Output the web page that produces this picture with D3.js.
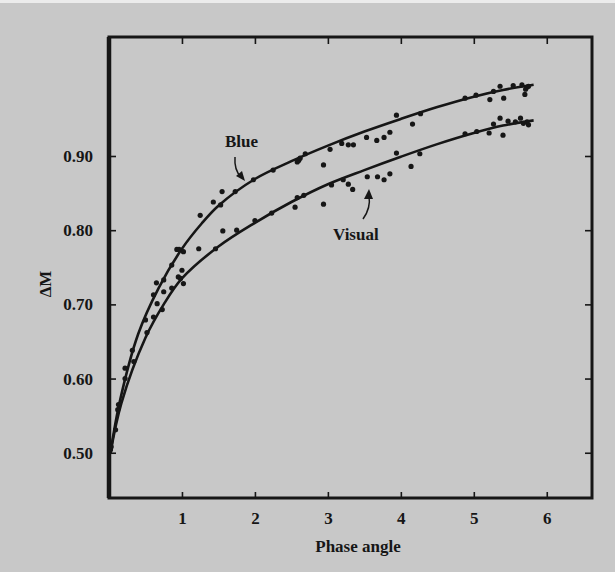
<!DOCTYPE html>
<html><head><meta charset="utf-8">
<script src="https://cdn.jsdelivr.net/npm/d3@7/dist/d3.min.js"></script>
<style>html,body{margin:0;padding:0;background:#c8c8c8;}svg{display:block;}</style>
</head><body>
<script>
const xTicks = [1, 2, 3, 4, 5, 6];
const yTicks = [0.50, 0.60, 0.70, 0.80, 0.90];
const xTitle = "Phase angle";
const yTitle = "ΔM";

const blueCurve = [[0.02,0.500],[0.15,0.570],[0.40,0.660],[0.68,0.722],[1.00,0.775],[1.27,0.809],[1.50,0.833],[2.00,0.869],[2.50,0.893],[3.00,0.914],[3.50,0.933],[4.00,0.950],[4.50,0.966],[5.00,0.980],[5.40,0.989],[5.82,0.996]];
const visualCurve = [[0.02,0.500],[0.17,0.567],[0.50,0.655],[0.75,0.700],[1.00,0.735],[1.50,0.778],[2.00,0.810],[2.50,0.838],[3.00,0.862],[3.50,0.881],[4.00,0.899],[4.50,0.916],[5.00,0.931],[5.40,0.941],[5.82,0.948]];

const blueDots = [[0.02,0.504],[0.09,0.531],[0.13,0.565],[0.22,0.614],[0.32,0.638],[0.50,0.679],[0.61,0.713],[0.65,0.729],[0.75,0.733],[0.86,0.753],[0.93,0.774],[0.96,0.774],[1.02,0.771],[1.25,0.820],[1.43,0.838],[1.53,0.834],[1.55,0.852],[1.73,0.852],[1.98,0.868],[2.25,0.881],[2.58,0.892],[2.60,0.894],[2.62,0.897],[2.69,0.903],[2.94,0.888],[3.03,0.909],[3.19,0.917],[3.28,0.915],[3.35,0.915],[3.53,0.925],[3.67,0.921],[3.77,0.925],[3.85,0.932],[3.94,0.955],[4.16,0.943],[4.27,0.957],[4.88,0.978],[5.03,0.982],[5.22,0.976],[5.27,0.987],[5.36,0.994],[5.41,0.978],[5.54,0.995],[5.66,0.996],[5.70,0.983],[5.73,0.993],[5.75,0.994],[5.71,0.990]];
const visualDots = [[0.03,0.508],[0.12,0.558],[0.22,0.600],[0.34,0.623],[0.52,0.662],[0.61,0.683],[0.66,0.701],[0.73,0.693],[0.75,0.717],[0.86,0.722],[0.95,0.737],[0.98,0.735],[1.00,0.746],[1.02,0.728],[1.23,0.775],[1.46,0.775],[1.56,0.799],[1.75,0.800],[2.00,0.813],[2.23,0.823],[2.55,0.831],[2.58,0.844],[2.67,0.847],[2.94,0.835],[3.05,0.861],[3.21,0.868],[3.28,0.862],[3.34,0.855],[3.54,0.872],[3.68,0.872],[3.77,0.868],[3.85,0.876],[3.94,0.904],[4.14,0.886],[4.26,0.903],[4.88,0.930],[5.04,0.933],[5.21,0.931],[5.27,0.943],[5.36,0.951],[5.40,0.928],[5.47,0.947],[5.57,0.946],[5.64,0.951],[5.68,0.944],[5.73,0.946],[5.75,0.942]];

const W = 615, H = 572;
const ink = "#161616";
const font = "'Liberation Serif', 'DejaVu Serif', serif";
const svg = d3.select("body").append("svg").attr("width", W).attr("height", H);
svg.append("rect").attr("width", W).attr("height", H).attr("fill", "#c8c8c8");
svg.append("rect").attr("width", W).attr("height", 3).attr("fill", "#ececec");

const L = 109, R = 592, T = 37, B = 498;
const x = d3.scaleLinear().domain([0, 6.62]).range([L, R]);
const y = d3.scaleLinear().domain([0.439, 1.0604]).range([B, T]);

// frame
svg.append("rect").attr("x", L).attr("y", T).attr("width", R - L).attr("height", B - T)
  .attr("fill", "none").attr("stroke", ink).attr("stroke-width", 3);
svg.append("line").attr("x1", L).attr("x2", L).attr("y1", T).attr("y2", B).attr("stroke", ink).attr("stroke-width", 4.5);

// axes
const gBottom = svg.append("g").attr("transform", `translate(0,${B})`)
  .call(d3.axisBottom(x).tickValues(xTicks).tickSizeInner(-6).tickSizeOuter(0).tickPadding(14).tickFormat(d3.format("d")));
const gTop = svg.append("g").attr("transform", `translate(0,${T})`)
  .call(d3.axisTop(x).tickValues(xTicks).tickSizeInner(-7).tickSizeOuter(0).tickFormat(""));
const gLeft = svg.append("g").attr("transform", `translate(${L},0)`)
  .call(d3.axisLeft(y).tickValues(yTicks).tickSizeInner(-7).tickSizeOuter(0).tickPadding(16).tickFormat(d3.format(".2f")));
const gRight = svg.append("g").attr("transform", `translate(${R},0)`)
  .call(d3.axisRight(y).tickValues(yTicks).tickSizeInner(-7).tickSizeOuter(0).tickFormat(""));
[gBottom, gTop, gLeft, gRight].forEach(g => {
  g.select(".domain").remove();
  g.selectAll("line").attr("stroke", ink).attr("stroke-width", 1.6);
  g.selectAll("text").attr("fill", ink).attr("font-family", font).attr("font-size", 17).attr("font-weight", "bold");
});

// curves
const line = d3.line().x(d => x(d[0])).y(d => y(d[1])).curve(d3.curveCatmullRom.alpha(0.5));
[blueCurve, visualCurve].forEach(c => {
  svg.append("path").attr("d", line(c)).attr("fill", "none").attr("stroke", ink).attr("stroke-width", 2.6);
});
[blueDots, visualDots].forEach(ds => {
  svg.append("g").selectAll("circle").data(ds).join("circle")
    .attr("cx", d => x(d[0])).attr("cy", d => y(d[1])).attr("r", 2.6).attr("fill", ink);
});

// labels
svg.append("text").attr("x", 358).attr("y", 552).attr("text-anchor", "middle")
  .attr("font-family", font).attr("font-size", 17).attr("font-weight", "bold").attr("fill", ink).text(xTitle);
svg.append("text").attr("transform", "translate(51,284) rotate(-90)").attr("text-anchor", "middle")
  .attr("font-family", font).attr("font-size", 17).attr("font-weight", "bold").attr("fill", ink).text(yTitle);
svg.append("text").attr("x", 225).attr("y", 147)
  .attr("font-family", font).attr("font-size", 17).attr("font-weight", "bold").attr("fill", ink).text("Blue");
svg.append("text").attr("x", 333).attr("y", 240)
  .attr("font-family", font).attr("font-size", 17).attr("font-weight", "bold").attr("fill", ink).text("Visual");

// arrows
svg.append("path").attr("d", "M235,157 Q234,170 241,177").attr("fill", "none").attr("stroke", ink).attr("stroke-width", 1.5);
svg.append("path").attr("d", "M245,181 L236,176 L242,171 Z").attr("fill", ink);
svg.append("path").attr("d", "M363,219 Q371,208 369,196").attr("fill", "none").attr("stroke", ink).attr("stroke-width", 1.5);
svg.append("path").attr("d", "M369,189 L364,199 L373,199 Z").attr("fill", ink);
</script>
</body></html>
